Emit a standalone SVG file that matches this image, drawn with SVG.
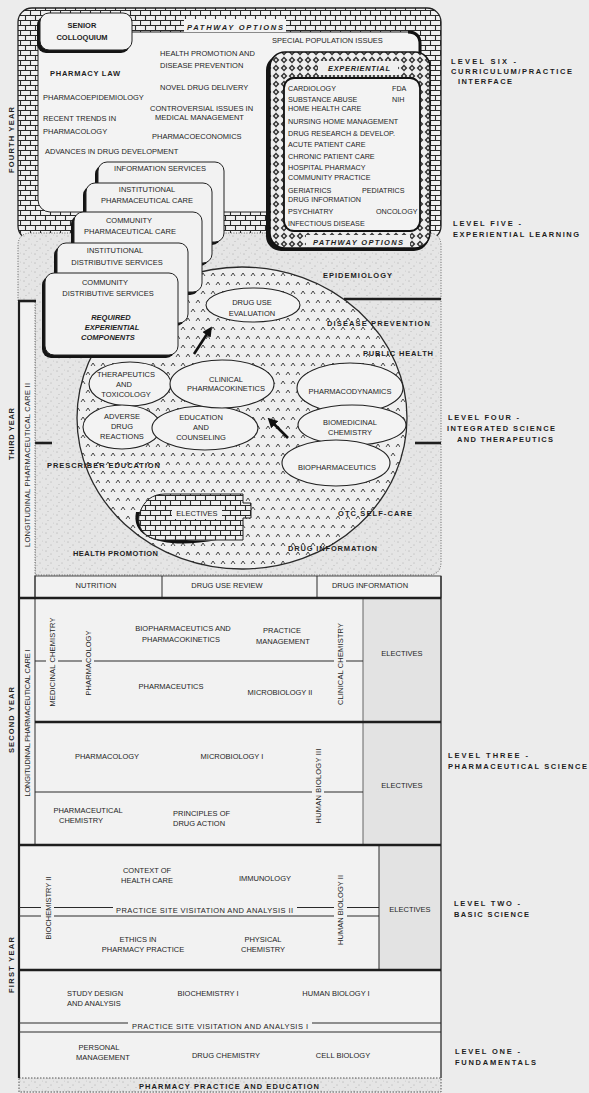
<svg xmlns="http://www.w3.org/2000/svg" width="589" height="1093" viewBox="0 0 589 1093">
<defs>
<style>
.t{font-family:"Liberation Sans",Arial,Helvetica,sans-serif;font-size:7.5px;fill:#1e1e1e}
.s{font-size:7.2px}
.b{font-weight:bold}
.i{font-style:italic}
.m{text-anchor:middle}
.ln{stroke:#2a2a2a;stroke-width:1;fill:none}
.thk{stroke:#1e1e1e;stroke-width:2.6;fill:none}
.dot{stroke:#555;stroke-width:0.9;stroke-dasharray:1 1.6;fill:none}
.box{fill:#f2f2f2}
.el{fill:#f3f3f3;stroke:#222;stroke-width:1.1}
.card{fill:#f2f2f2;stroke:#222;stroke-width:1}
.sh{fill:#141414}
.arr{stroke:#111;stroke-width:2.6;fill:none}
</style>
<pattern id="brick" width="20" height="10" patternUnits="userSpaceOnUse">
<rect width="20" height="10" fill="#f0f0f0"/>
<path d="M0 0.5H20M0 5.5H20M0.5 0V5.5M10.5 0V5.5M5.5 5.5V10M15.5 5.5V10" stroke="#2a2a2a" stroke-width="1.1" fill="none"/>
</pattern>
<pattern id="stip" width="11" height="9" patternUnits="userSpaceOnUse">
<rect width="11" height="9" fill="#e5e5e5"/>
<circle cx="2" cy="2" r="0.45" fill="#666"/>
<circle cx="7" cy="5" r="0.45" fill="#777"/>
<circle cx="4" cy="7.5" r="0.4" fill="#888"/>
<circle cx="9.5" cy="1" r="0.35" fill="#888"/>
</pattern>
<pattern id="caret" width="10" height="18" patternUnits="userSpaceOnUse">
<rect width="10" height="18" fill="#efefef"/>
<path d="M1 6L3 3L5 6M6 15L8 12L10 15" stroke="#333" stroke-width="0.9" fill="none"/>
</pattern>
<pattern id="diam" width="8" height="8" patternUnits="userSpaceOnUse">
<rect width="8" height="8" fill="#efefef"/>
<path d="M4 0.6L7.4 4L4 7.4L0.6 4Z" fill="#333"/>
<path d="M4 2.6L5.4 4L4 5.4L2.6 4Z" fill="#eee"/>
</pattern>
<marker id="ah" viewBox="0 0 10 10" refX="1" refY="5" markerWidth="10" markerHeight="10" markerUnits="userSpaceOnUse" orient="auto">
<path d="M0 0L10 5L0 10Z" fill="#111"/>
</marker>
</defs>

<rect width="589" height="1093" fill="#ececec"/>

<g id="brick-frame">
<rect x="18" y="8" width="423" height="232" rx="14" fill="url(#brick)" stroke="#222" stroke-width="1.3"/>
</g>

<g id="level-four-field">
<path d="M35 302H18V246Q18 233 31 233H428Q441 233 441 246V562Q441 575 428 575H35Z" fill="url(#stip)"/>
<path d="M35 302H18V246Q18 233 31 233H428Q441 233 441 246V562Q441 575 428 575H35Z" class="dot"/>
<rect x="19" y="302" width="16" height="296" class="box"/>
</g>

<g id="fourth-year-pathways">
<rect x="38" y="32" width="382" height="180" rx="12" fill="#f3f3f3" stroke="#222" stroke-width="1"/>
<path d="M408 32Q420 32 420 44V56" stroke="#111" stroke-width="3" fill="none"/>
<rect x="184" y="19" width="102" height="13" fill="#f3f3f3"/>
<text class="t b i" x="187" y="30" textLength="96" lengthAdjust="spacing">PATHWAY OPTIONS</text>
<text class="t" x="272" y="43">SPECIAL POPULATION ISSUES</text>
<text class="t" x="160" y="56">HEALTH PROMOTION AND</text>
<text class="t" x="160" y="68">DISEASE PREVENTION</text>
<text class="t b" x="50" y="76" textLength="70" lengthAdjust="spacing">PHARMACY LAW</text>
<text class="t" x="160" y="90">NOVEL DRUG DELIVERY</text>
<text class="t" x="43" y="100">PHARMACOEPIDEMIOLOGY</text>
<text class="t" x="150" y="111">CONTROVERSIAL ISSUES IN</text>
<text class="t" x="155" y="120">MEDICAL MANAGEMENT</text>
<text class="t" x="43" y="121">RECENT TRENDS IN</text>
<text class="t" x="43" y="134">PHARMACOLOGY</text>
<text class="t" x="152" y="139">PHARMACOECONOMICS</text>
<text class="t" x="45" y="154">ADVANCES IN DRUG DEVELOPMENT</text>
</g>

<g id="senior-colloquium">
<rect x="37" y="16" width="93" height="37" rx="9" class="sh"/>
<rect x="40" y="13" width="92" height="37" rx="9" fill="#f3f3f3" stroke="#222" stroke-width="1"/>
<text class="t b m" x="82" y="28">SENIOR</text>
<text class="t b m" x="82" y="40">COLLOQUIUM</text>
</g>

<g id="experiential">
<rect x="266" y="55" width="163" height="196" rx="15" class="sh"/>
<rect x="270" y="52" width="160" height="196" rx="15" fill="url(#diam)" stroke="#111" stroke-width="1.5"/>
<rect x="318" y="61" width="80" height="14" fill="#efefef"/>
<text class="t b i" x="328" y="71" textLength="62" lengthAdjust="spacing">EXPERIENTIAL</text>
<rect x="284" y="78" width="136" height="153" rx="10" fill="#f3f3f3" stroke="#111" stroke-width="1.8"/>
<rect x="306" y="235" width="104" height="12" fill="#efefef"/>
<text class="t b i" x="313" y="245" textLength="90" lengthAdjust="spacing">PATHWAY OPTIONS</text>
<text class="t s" x="288" y="91">CARDIOLOGY</text>
<text class="t s" x="392" y="91">FDA</text>
<text class="t s" x="288" y="102">SUBSTANCE ABUSE</text>
<text class="t s" x="392" y="102">NIH</text>
<text class="t s" x="288" y="111">HOME HEALTH CARE</text>
<text class="t s" x="288" y="124">NURSING HOME MANAGEMENT</text>
<text class="t s" x="288" y="136">DRUG RESEARCH &amp; DEVELOP.</text>
<text class="t s" x="288" y="147">ACUTE PATIENT CARE</text>
<text class="t s" x="288" y="159">CHRONIC PATIENT CARE</text>
<text class="t s" x="288" y="170">HOSPITAL PHARMACY</text>
<text class="t s" x="288" y="180">COMMUNITY PRACTICE</text>
<text class="t s" x="288" y="193">GERIATRICS</text>
<text class="t s" x="362" y="193">PEDIATRICS</text>
<text class="t s" x="288" y="202">DRUG INFORMATION</text>
<text class="t s" x="288" y="214">PSYCHIATRY</text>
<text class="t s" x="376" y="214">ONCOLOGY</text>
<text class="t s" x="288" y="226">INFECTIOUS DISEASE</text>
</g>

<g id="integrated-field">
<ellipse cx="242" cy="418" rx="165" ry="151" fill="url(#caret)" stroke="#2a2a2a" stroke-width="1.3"/>
</g>

<g id="card-information-services">
<rect x="95" y="165" width="126" height="80" rx="9" class="sh"/>
<rect x="98" y="162" width="126" height="80" rx="9" class="card"/>
<text class="t m" x="160" y="171">INFORMATION SERVICES</text>
</g>
<g id="card-institutional-pharmaceutical">
<rect x="83" y="186" width="126" height="80" rx="9" class="sh"/>
<rect x="86" y="183" width="126" height="80" rx="9" class="card"/>
<text class="t m" x="147" y="192">INSTITUTIONAL</text>
<text class="t m" x="147" y="203">PHARMACEUTICAL CARE</text>
</g>
<g id="card-community-pharmaceutical">
<rect x="71" y="215" width="128" height="80" rx="9" class="sh"/>
<rect x="74" y="212" width="128" height="80" rx="9" class="card"/>
<text class="t m" x="129" y="223">COMMUNITY</text>
<text class="t m" x="130" y="234">PHARMACEUTICAL CARE</text>
</g>
<g id="card-institutional-distributive">
<rect x="54" y="246" width="131" height="80" rx="9" class="sh"/>
<rect x="57" y="243" width="131" height="80" rx="9" class="card"/>
<text class="t m" x="115" y="253">INSTITUTIONAL</text>
<text class="t m" x="117" y="265">DISTRIBUTIVE SERVICES</text>
</g>
<g id="card-community-distributive">
<rect x="42" y="276" width="133" height="82" rx="9" class="sh"/>
<rect x="45" y="273" width="133" height="82" rx="9" class="card"/>
<text class="t m" x="105" y="285">COMMUNITY</text>
<text class="t m" x="108" y="296">DISTRIBUTIVE SERVICES</text>
<text class="t b i m" x="111" y="320">REQUIRED</text>
<text class="t b i m" x="112" y="330">EXPERIENTIAL</text>
<text class="t b i m" x="108" y="340">COMPONENTS</text>
</g>

<g id="drug-use-evaluation">
<ellipse cx="253" cy="305" rx="47" ry="17" class="el"/>
<text class="t m" x="252" y="304.5">DRUG USE</text>
<text class="t m" x="252" y="316">EVALUATION</text>
</g>
<g id="therapeutics-toxicology">
<ellipse cx="130" cy="384" rx="41" ry="22" class="el"/>
<text class="t m" x="126" y="377">THERAPEUTICS</text>
<text class="t m" x="124" y="386.5">AND</text>
<text class="t m" x="126" y="396.5">TOXICOLOGY</text>
</g>
<g id="adverse-drug-reactions">
<ellipse cx="122" cy="427" rx="39" ry="22" class="el"/>
<text class="t m" x="122" y="418.5">ADVERSE</text>
<text class="t m" x="122" y="428.5">DRUG</text>
<text class="t m" x="122" y="438.5">REACTIONS</text>
</g>
<g id="education-counseling">
<ellipse cx="205" cy="428" rx="53" ry="22" class="el"/>
<text class="t m" x="201" y="419.5">EDUCATION</text>
<text class="t m" x="201" y="429.5">AND</text>
<text class="t m" x="201" y="439.5">COUNSELING</text>
</g>
<g id="clinical-pharmacokinetics">
<ellipse cx="222" cy="384" rx="52" ry="24" class="el"/>
<text class="t m" x="226" y="381.5">CLINICAL</text>
<text class="t m" x="226" y="391">PHARMACOKINETICS</text>
</g>
<g id="pharmacodynamics">
<ellipse cx="350" cy="388" rx="53" ry="25" class="el"/>
<text class="t m" x="350" y="393.5">PHARMACODYNAMICS</text>
</g>
<g id="biomedicinal-chemistry">
<ellipse cx="352" cy="425" rx="54" ry="20" class="el"/>
<text class="t m" x="350" y="424.5">BIOMEDICINAL</text>
<text class="t m" x="350" y="434.5">CHEMISTRY</text>
</g>
<g id="biopharmaceutics">
<ellipse cx="336" cy="463" rx="54" ry="23" class="el"/>
<text class="t m" x="337" y="469.5">BIOPHARMACEUTICS</text>
</g>

<g id="electives-core">
<path d="M136 512C130 541 170 549 217 540C176 543 146 535 142 512Z" fill="#111"/>
<path d="M165 494H243V503H251V518H243V540H160C141 538 136 523 140 512C144 501 152 494 165 494Z" fill="url(#brick)" stroke="#222" stroke-width="1"/>
<rect x="172" y="506" width="50" height="13" fill="#f0f0f0"/>
<text class="t m" x="197" y="515.5">ELECTIVES</text>
</g>

<g id="connectors">
<line x1="194" y1="354" x2="207" y2="334" class="arr" marker-end="url(#ah)"/>
<line x1="288" y1="438" x2="274" y2="424" class="arr" marker-end="url(#ah)"/>
</g>

<g id="level-four-topics">
<line x1="344" y1="299" x2="441" y2="299" class="thk"/>
<line x1="18" y1="301" x2="36" y2="301" class="thk"/>
<line x1="35" y1="443" x2="52" y2="443" class="thk"/>
<line x1="415" y1="443" x2="441" y2="443" class="thk"/>
<text class="t b" x="323" y="278" textLength="69" lengthAdjust="spacing">EPIDEMIOLOGY</text>
<text class="t b" x="327" y="326" textLength="103" lengthAdjust="spacing">DISEASE PREVENTION</text>
<text class="t b" x="363" y="356" textLength="70" lengthAdjust="spacing">PUBLIC HEALTH</text>
<text class="t b" x="47" y="468" textLength="113" lengthAdjust="spacing">PRESCRIBER EDUCATION</text>
<text class="t b" x="338" y="516" textLength="74" lengthAdjust="spacing">OTC SELF-CARE</text>
<text class="t b" x="288" y="551" textLength="89" lengthAdjust="spacing">DRUG INFORMATION</text>
<text class="t b" x="73" y="556" textLength="85" lengthAdjust="spacing">HEALTH PROMOTION</text>
</g>

<g id="curriculum-grid">
<rect x="35" y="576" width="406" height="22" class="box" stroke="#333" stroke-width="0.9"/>
<line x1="162" y1="576" x2="162" y2="598" class="ln"/>
<line x1="317" y1="576" x2="317" y2="598" class="ln"/>
<rect x="19" y="598" width="422" height="247" class="box"/>
<rect x="363" y="598" width="78" height="247" fill="#e3e3e3"/>
<rect x="19" y="845" width="422" height="233" class="box"/>
<rect x="379" y="845" width="62" height="125" fill="#e3e3e3"/>
<rect x="19" y="1078" width="422" height="14" fill="url(#stip)" stroke="#444" stroke-width="0.9" stroke-dasharray="1.5 1.5"/>
<line x1="19" y1="302" x2="19" y2="1078" stroke="#1e1e1e" stroke-width="2.2"/>
<line x1="441" y1="576" x2="441" y2="1078" stroke="#2a2a2a" stroke-width="1.3"/>
<line x1="35" y1="302" x2="35" y2="576" class="dot"/>
<line x1="35" y1="576" x2="35" y2="845" class="ln"/>
<line x1="363" y1="598" x2="363" y2="845" stroke="#555" stroke-width="0.9"/>
<line x1="379" y1="845" x2="379" y2="970" class="ln"/>
<line x1="19" y1="598" x2="441" y2="598" class="thk"/>
<line x1="35" y1="722" x2="441" y2="722" class="thk"/>
<line x1="19" y1="845" x2="441" y2="845" class="thk"/>
<line x1="19" y1="970" x2="441" y2="970" class="thk"/>
<path d="M35 661H46M58 661H82M94 661H334M346 661H363" class="ln"/>
<path d="M35 792H312M324 792H363" class="ln"/>
<path d="M19 907.5H41M54 907.5H113M297 907.5H334M347 907.5H379M19 916H41M54 916H334M347 916H379" class="ln"/>
<path d="M19 1023H128M312 1023H441M19 1032H441" class="ln"/>

<text class="t m" x="96" y="588">NUTRITION</text>
<text class="t m" x="227" y="588">DRUG USE REVIEW</text>
<text class="t m" x="370" y="588">DRUG INFORMATION</text>

<text class="t m" x="183" y="631">BIOPHARMACEUTICS AND</text>
<text class="t m" x="181" y="641.5">PHARMACOKINETICS</text>
<text class="t m" x="282" y="633">PRACTICE</text>
<text class="t m" x="283" y="643.5">MANAGEMENT</text>
<text class="t m" x="171" y="689">PHARMACEUTICS</text>
<text class="t m" x="280" y="695">MICROBIOLOGY II</text>
<text class="t m" x="402" y="655.5">ELECTIVES</text>
<g transform="translate(54.7,662) rotate(-90)"><text class="t" x="-44.5" y="0" textLength="89" lengthAdjust="spacing">MEDICINAL CHEMISTRY</text></g>
<g transform="translate(90.7,663) rotate(-90)"><text class="t" x="-32.5" y="0" textLength="65" lengthAdjust="spacing">PHARMACOLOGY</text></g>
<g transform="translate(342.7,664) rotate(-90)"><text class="t" x="-41" y="0" textLength="82" lengthAdjust="spacing">CLINICAL CHEMISTRY</text></g>

<text class="t m" x="107" y="759">PHARMACOLOGY</text>
<text class="t m" x="232" y="759">MICROBIOLOGY I</text>
<text class="t m" x="88" y="813">PHARMACEUTICAL</text>
<text class="t m" x="81" y="823">CHEMISTRY</text>
<text class="t" x="173" y="816">PRINCIPLES OF</text>
<text class="t" x="173" y="826">DRUG ACTION</text>
<text class="t m" x="402" y="787.5">ELECTIVES</text>
<g transform="translate(320.7,786) rotate(-90)"><text class="t" x="-37.5" y="0" textLength="75" lengthAdjust="spacing">HUMAN BIOLOGY III</text></g>

<text class="t m" x="147" y="873">CONTEXT OF</text>
<text class="t m" x="147" y="883">HEALTH CARE</text>
<text class="t m" x="265" y="880.5">IMMUNOLOGY</text>
<text class="t" x="116" y="913" textLength="177" lengthAdjust="spacing">PRACTICE SITE VISITATION AND ANALYSIS II</text>
<text class="t m" x="138" y="942">ETHICS IN</text>
<text class="t m" x="143" y="952">PHARMACY PRACTICE</text>
<text class="t m" x="263" y="942">PHYSICAL</text>
<text class="t m" x="263" y="952">CHEMISTRY</text>
<text class="t m" x="410" y="911.5">ELECTIVES</text>
<g transform="translate(50.7,908) rotate(-90)"><text class="t" x="-31.5" y="0" textLength="63" lengthAdjust="spacing">BIOCHEMISTRY II</text></g>
<g transform="translate(342.7,910) rotate(-90)"><text class="t" x="-35" y="0" textLength="70" lengthAdjust="spacing">HUMAN BIOLOGY II</text></g>

<text class="t" x="67" y="996">STUDY DESIGN</text>
<text class="t" x="67" y="1006">AND ANALYSIS</text>
<text class="t m" x="208" y="996">BIOCHEMISTRY I</text>
<text class="t m" x="336" y="996">HUMAN BIOLOGY I</text>
<text class="t" x="132" y="1029" textLength="176" lengthAdjust="spacing">PRACTICE SITE VISITATION AND ANALYSIS I</text>
<text class="t m" x="99" y="1050">PERSONAL</text>
<text class="t m" x="103" y="1060">MANAGEMENT</text>
<text class="t m" x="226" y="1058">DRUG CHEMISTRY</text>
<text class="t m" x="343" y="1058">CELL BIOLOGY</text>
<text class="t b" x="139" y="1088.5" textLength="180" lengthAdjust="spacing">PHARMACY PRACTICE AND EDUCATION</text>
</g>

<g id="longitudinal-care">
<g transform="translate(29.7,465) rotate(-90)"><text class="t" x="-82" y="0" textLength="164" lengthAdjust="spacing">LONGITUDINAL PHARMACEUTICAL CARE II</text></g>
<g transform="translate(29.7,723) rotate(-90)"><text class="t" x="-73.5" y="0" textLength="147" lengthAdjust="spacing">LONGITUDINAL PHARMACEUTICAL CARE I</text></g>
</g>

<g id="year-labels">
<g transform="translate(13.7,140) rotate(-90)"><text class="t b" x="-33" y="0" textLength="66" lengthAdjust="spacing">FOURTH YEAR</text></g>
<g transform="translate(13.7,434) rotate(-90)"><text class="t b" x="-26" y="0" textLength="52" lengthAdjust="spacing">THIRD YEAR</text></g>
<g transform="translate(13.7,720) rotate(-90)"><text class="t b" x="-33" y="0" textLength="66" lengthAdjust="spacing">SECOND YEAR</text></g>
<g transform="translate(13.7,965) rotate(-90)"><text class="t b" x="-28" y="0" textLength="56" lengthAdjust="spacing">FIRST YEAR</text></g>
</g>

<g id="level-labels">
<text class="t b" x="451" y="64" textLength="65" lengthAdjust="spacing">LEVEL SIX -</text>
<text class="t b" x="451" y="74" textLength="121" lengthAdjust="spacing">CURRICULUM/PRACTICE</text>
<text class="t b" x="458" y="84" textLength="54" lengthAdjust="spacing">INTERFACE</text>
<text class="t b" x="453" y="226" textLength="68" lengthAdjust="spacing">LEVEL FIVE -</text>
<text class="t b" x="453" y="237" textLength="126" lengthAdjust="spacing">EXPERIENTIAL LEARNING</text>
<text class="t b" x="448" y="420" textLength="71" lengthAdjust="spacing">LEVEL FOUR -</text>
<text class="t b" x="447" y="431" textLength="108" lengthAdjust="spacing">INTEGRATED SCIENCE</text>
<text class="t b" x="457" y="442" textLength="96" lengthAdjust="spacing">AND THERAPEUTICS</text>
<text class="t b" x="448" y="758" textLength="80" lengthAdjust="spacing">LEVEL THREE -</text>
<text class="t b" x="448" y="769" textLength="139" lengthAdjust="spacing">PHARMACEUTICAL SCIENCE</text>
<text class="t b" x="454" y="906" textLength="66" lengthAdjust="spacing">LEVEL TWO -</text>
<text class="t b" x="454" y="917" textLength="75" lengthAdjust="spacing">BASIC SCIENCE</text>
<text class="t b" x="455" y="1054" textLength="65" lengthAdjust="spacing">LEVEL ONE -</text>
<text class="t b" x="455" y="1065" textLength="81" lengthAdjust="spacing">FUNDAMENTALS</text>
</g>
</svg>
